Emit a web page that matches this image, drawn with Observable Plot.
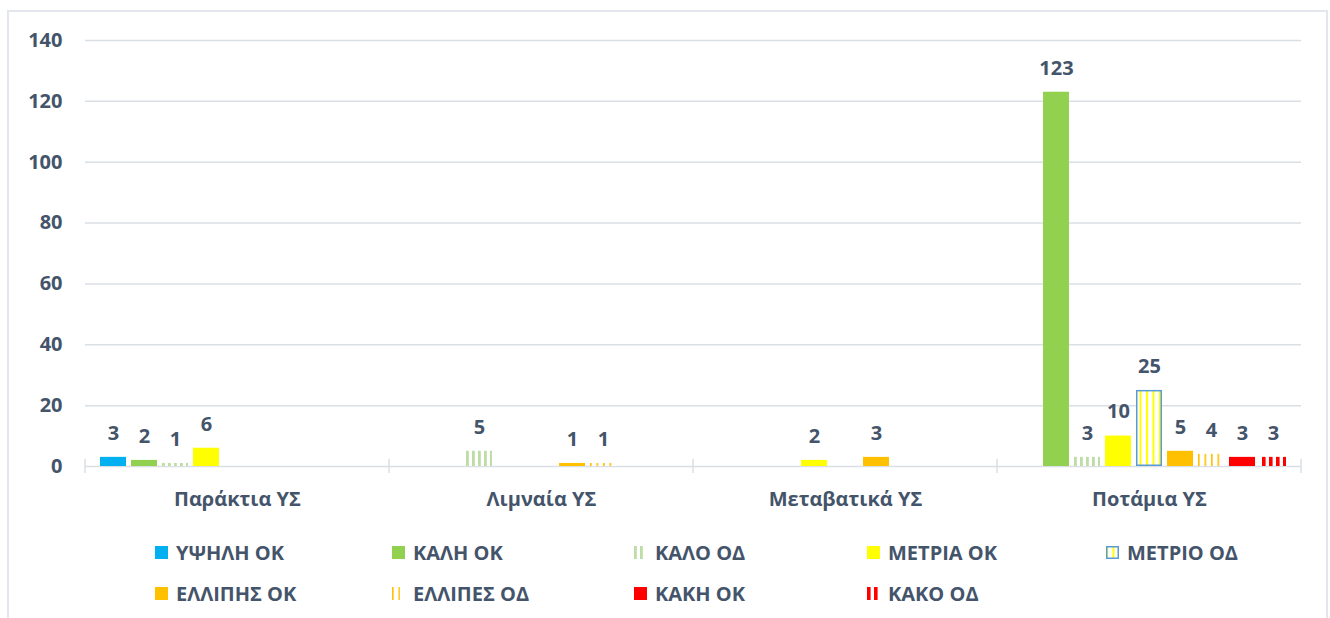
<!DOCTYPE html>
<html><head><meta charset="utf-8">
<script src="https://cdn.jsdelivr.net/npm/d3@7"></script>
<script src="https://cdn.jsdelivr.net/npm/@observablehq/plot@0.6"></script>
<style>
html,body{margin:0;padding:0;background:#fff;}
#wrap{position:relative;width:1330px;height:618px;overflow:hidden;font-family:"Open Sans",sans-serif;}
#frame{position:absolute;left:7px;top:10px;width:1321px;height:640px;border:2px solid #e3e6ed;box-sizing:border-box;}
#chart{position:absolute;left:0;top:0;}
.leg{position:absolute;height:28px;display:flex;align-items:center;font-weight:700;font-size:20px;color:#44546a;white-space:nowrap;}
.leg svg{margin-right:8px;flex:none;}
</style></head>
<body>
<svg width="0" height="0" style="position:absolute"><defs>
<pattern id="pKalo" patternUnits="userSpaceOnUse" width="6" height="6"><rect x="0" y="0" width="6" height="6" fill="#fff"/><rect x="0" y="0" width="2.8" height="6" fill="#bddca6"/></pattern>
<pattern id="pMetrio" patternUnits="userSpaceOnUse" width="6.5" height="6"><rect x="0" y="0" width="6.5" height="6" fill="#fff"/><rect x="0" y="0" width="2" height="6" fill="#ffff00"/></pattern>
<pattern id="pEllipes" patternUnits="userSpaceOnUse" width="6.5" height="6"><rect x="0" y="0" width="6.5" height="6" fill="#fff"/><rect x="0" y="0" width="1.6" height="6" fill="#ffc000"/></pattern>
<pattern id="pKako" patternUnits="userSpaceOnUse" width="7" height="6"><rect x="0" y="0" width="7" height="6" fill="#fff"/><rect x="0" y="0" width="3.6" height="6" fill="#ff0000"/></pattern>
</defs></svg>
<div id="wrap"><div id="frame"></div><div id="chart"></div><div id="legend"></div></div>
<script>
const categories = ["Παράκτια ΥΣ", "Λιμναία ΥΣ", "Μεταβατικά ΥΣ", "Ποτάμια ΥΣ"];
const series = ["ΥΨΗΛΗ ΟΚ", "ΚΑΛΗ ΟΚ", "ΚΑΛΟ ΟΔ", "ΜΕΤΡΙΑ ΟΚ", "ΜΕΤΡΙΟ ΟΔ", "ΕΛΛΙΠΗΣ ΟΚ", "ΕΛΛΙΠΕΣ ΟΔ", "ΚΑΚΗ ΟΚ", "ΚΑΚΟ ΟΔ"];
const ypsiliOK   = [3, 0, 0, 0];
const kaliOK     = [2, 0, 0, 123];
const kaloOD     = [1, 5, 0, 3];
const metriaOK   = [6, 0, 2, 10];
const metrioOD   = [0, 0, 0, 25];
const ellipisOK  = [0, 1, 3, 5];
const ellipesOD  = [0, 1, 0, 4];
const kakiOK     = [0, 0, 0, 3];
const kakoOD     = [0, 0, 0, 3];
const yTicks = [0, 20, 40, 60, 80, 100, 120, 140];

const values = [ypsiliOK, kaliOK, kaloOD, metriaOK, metrioOD, ellipisOK, ellipesOD, kakiOK, kakoOD];
const fills = ["#00b0f0", "#92d050", "url(#pKalo)", "#ffff00", "url(#pMetrio)", "#ffc000", "url(#pEllipes)", "#ff0000", "url(#pKako)"];
const strokes = [null, null, null, null, "#5b9bd5", null, null, null, null];
const legendSwatchWidth = [13, 13, 9, 13, 13, 13, 8, 13, 11];

const rows = [];
series.forEach((s, i) => categories.forEach((c, j) => rows.push({series: s, category: c, value: values[i][j], si: i})));
const nonzero = rows.filter(d => d.value > 0);

const textColor = "#44546a";
const grid = "#dadfe6";

const marks = [
  Plot.ruleY(yTicks, {stroke: grid, strokeWidth: 1.5})
];
series.forEach((s, i) => {
  marks.push(Plot.barY(nonzero.filter(d => d.si === i), {
    fx: "category", x: "series", y: "value",
    fill: fills[i],
    ...(strokes[i] ? {stroke: strokes[i], strokeWidth: 1.5, inset: 0.75} : {})
  }));
});
marks.push(Plot.text(nonzero, {
  fx: "category", x: "series", y: "value", text: d => String(d.value),
  dy: -24, fill: textColor, fontWeight: 700, fontSize: 20
}));

const plot = Plot.plot({
  width: 1330, height: 520,
  marginLeft: 85, marginRight: 29, marginTop: 40, marginBottom: 54,
  style: {fontFamily: "'Open Sans', sans-serif", fontSize: "20px", fontWeight: 700, color: textColor, background: "transparent"},
  fx: {domain: categories, padding: 0, axis: "bottom", label: null, tickSize: 0, tickPadding: 25},
  x: {domain: series, paddingInner: 0.17, paddingOuter: 0.41, axis: null},
  y: {domain: [0, 140], ticks: yTicks, tickSize: 0, tickPadding: 23, label: null},
  marks
});
document.getElementById("chart").appendChild(plot);

// category separator ticks from Plot's fx and y scales
const fx = plot.scale("fx");
const y0 = plot.scale("y").apply(0);
const bounds = categories.map(c => fx.apply(c));
bounds.push(fx.apply(categories[categories.length - 1]) + fx.bandwidth);
d3.select(plot).append("g").selectAll("line").data(bounds).join("line")
  .attr("x1", d => d).attr("x2", d => d)
  .attr("y1", y0 - 7).attr("y2", y0 + 7)
  .attr("stroke", grid).attr("stroke-width", 1.5);

// legend
const legCols = [155, 392, 634, 867, 1106];
const legRows = [552, 593];
const leg = document.getElementById("legend");
series.forEach((s, i) => {
  const col = i % 5, row = Math.floor(i / 5);
  const div = document.createElement("div");
  div.className = "leg";
  div.style.left = legCols[col] + "px";
  div.style.top = (legRows[row] - 14) + "px";
  const sw = d3.create("svg").attr("width", 13).attr("height", 13);
  if (strokes[i]) {
    sw.append("rect").attr("x", 0.75).attr("y", 0.75).attr("width", 11.5).attr("height", 11.5)
      .attr("fill", fills[i]).attr("stroke", strokes[i]).attr("stroke-width", 1.5);
  } else {
    sw.append("rect").attr("width", legendSwatchWidth[i]).attr("height", 13).attr("fill", fills[i]);
  }
  div.appendChild(sw.node());
  const t = document.createElement("span");
  t.textContent = s;
  div.appendChild(t);
  leg.appendChild(div);
});
</script>
</body></html>
